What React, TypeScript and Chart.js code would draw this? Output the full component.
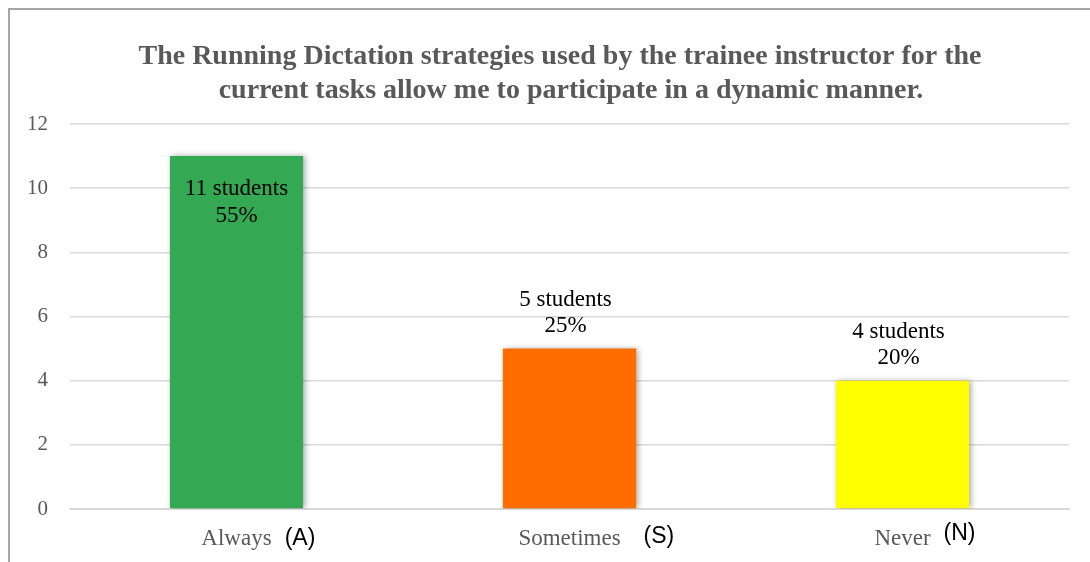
import React, { useEffect, useRef } from 'react';
import { Chart, registerables } from 'chart.js';

Chart.register(...registerables);

const categories = ['Always', 'Sometimes', 'Never'];
const categoryCodes = ['(A)', '(S)', '(N)'];
const studentCounts = [11, 5, 4];
const percentLabels = ['55%', '25%', '20%'];
const barColors = ['#34A853', '#FF6D00', '#FFFF00'];
const titleLines = [
  'The Running Dictation strategies used by the trainee instructor for the',
  'current tasks allow me to participate in a dynamic manner.',
];
const yMin = 0;
const yMax = 12;
const yStep = 2;

const SERIF = '"Liberation Serif", "Times New Roman", serif';
const SANS = '"Liberation Sans", Arial, sans-serif';

const titlePlugin = {
  id: 'customTitle',
  afterDraw(chart: any) {
    const ctx = chart.ctx;
    ctx.save();
    ctx.fillStyle = '#595959';
    ctx.font = `bold 28px ${SERIF}`;
    ctx.textAlign = 'center';
    ctx.textBaseline = 'alphabetic';
    const xs = [550, 561];
    const ys = [54, 88];
    titleLines.forEach((line, i) => ctx.fillText(line, xs[i], ys[i]));
    ctx.restore();
  },
};

const shadowPlugin = {
  id: 'barShadow',
  beforeDatasetsDraw(chart: any) {
    const ctx = chart.ctx;
    ctx.save();
    ctx.shadowColor = 'rgba(0,0,0,0.35)';
    ctx.shadowBlur = 6;
    ctx.shadowOffsetX = 2;
    ctx.shadowOffsetY = 0;
  },
  afterDatasetsDraw(chart: any) {
    chart.ctx.restore();
  },
};

const dataLabelPlugin = {
  id: 'dataLabels',
  afterDatasetsDraw(chart: any) {
    const ctx = chart.ctx;
    const meta = chart.getDatasetMeta(0);
    ctx.save();
    ctx.fillStyle = '#000000';
    ctx.font = `23px ${SERIF}`;
    ctx.textAlign = 'center';
    ctx.textBaseline = 'alphabetic';
    meta.data.forEach((bar: any, i: number) => {
      const top = bar.y;
      const h = bar.base - bar.y;
      const l1 = `${studentCounts[i]} students`;
      const l2 = percentLabels[i];
      if (h > 200) {
        ctx.fillText(l1, bar.x, top + 39);
        ctx.fillText(l2, bar.x, top + 66);
      } else {
        ctx.fillText(l1, bar.x - 4, top - 43);
        ctx.fillText(l2, bar.x - 4, top - 17);
      }
    });
    ctx.restore();
  },
};

const codePlugin = {
  id: 'categoryCodes',
  afterDraw(chart: any) {
    const ctx = chart.ctx;
    const xScale = chart.scales.x;
    const bottom = chart.chartArea.bottom;
    const gaps = [13, 23, 13];
    const dy = [36, 34, 31];
    ctx.save();
    categories.forEach((cat, i) => {
      ctx.font = `23px ${SERIF}`;
      const w = ctx.measureText(cat).width;
      const x = xScale.getPixelForValue(i) + w / 2 + gaps[i];
      ctx.font = `23px ${SANS}`;
      ctx.fillStyle = '#000000';
      ctx.textAlign = 'left';
      ctx.textBaseline = 'alphabetic';
      ctx.fillText(categoryCodes[i], x, bottom + dy[i]);
    });
    ctx.restore();
  },
};

export default function App() {
  const canvasRef = useRef<HTMLCanvasElement | null>(null);

  useEffect(() => {
    if (!canvasRef.current) return;
    const chart = new Chart(canvasRef.current, {
      type: 'bar',
      data: {
        labels: categories,
        datasets: [
          {
            data: studentCounts,
            backgroundColor: barColors,
            borderWidth: 0,
            categoryPercentage: 1,
            barPercentage: 0.4,
          },
        ],
      },
      options: {
        responsive: false,
        animation: false,
        events: [],
        layout: { padding: { top: 114, right: 21, bottom: 0, left: 0 } },
        plugins: {
          legend: { display: false },
          title: { display: false },
          tooltip: { enabled: false },
        },
        scales: {
          x: {
            afterFit: (s: any) => {
              s.height = 53;
            },
            grid: { display: false, drawTicks: false },
            border: { display: true, color: '#d9d9d9', width: 2 },
            ticks: {
              color: '#595959',
              font: { family: SERIF, size: 23 },
              padding: 16,
            },
          },
          y: {
            min: yMin,
            max: yMax,
            afterFit: (s: any) => {
              s.width = 60;
            },
            grid: { color: '#d9d9d9', lineWidth: 1.5, drawTicks: false },
            border: { display: false },
            ticks: {
              stepSize: yStep,
              color: '#595959',
              font: { family: SERIF, size: 21 },
              padding: 22,
            },
          },
        },
      },
      plugins: [titlePlugin, shadowPlugin, dataLabelPlugin, codePlugin],
    });
    return () => chart.destroy();
  }, []);

  return (
    <div
      style={{
        position: 'absolute',
        left: 8,
        top: 8,
        width: 1082,
        height: 554,
        boxSizing: 'border-box',
        borderTop: '2px solid #a6a6a6',
        borderLeft: '2px solid #a6a6a6',
        background: '#ffffff',
        overflow: 'hidden',
      }}
    >
      <canvas ref={canvasRef} width={1080} height={552} style={{ display: 'block' }} />
    </div>
  );
}
